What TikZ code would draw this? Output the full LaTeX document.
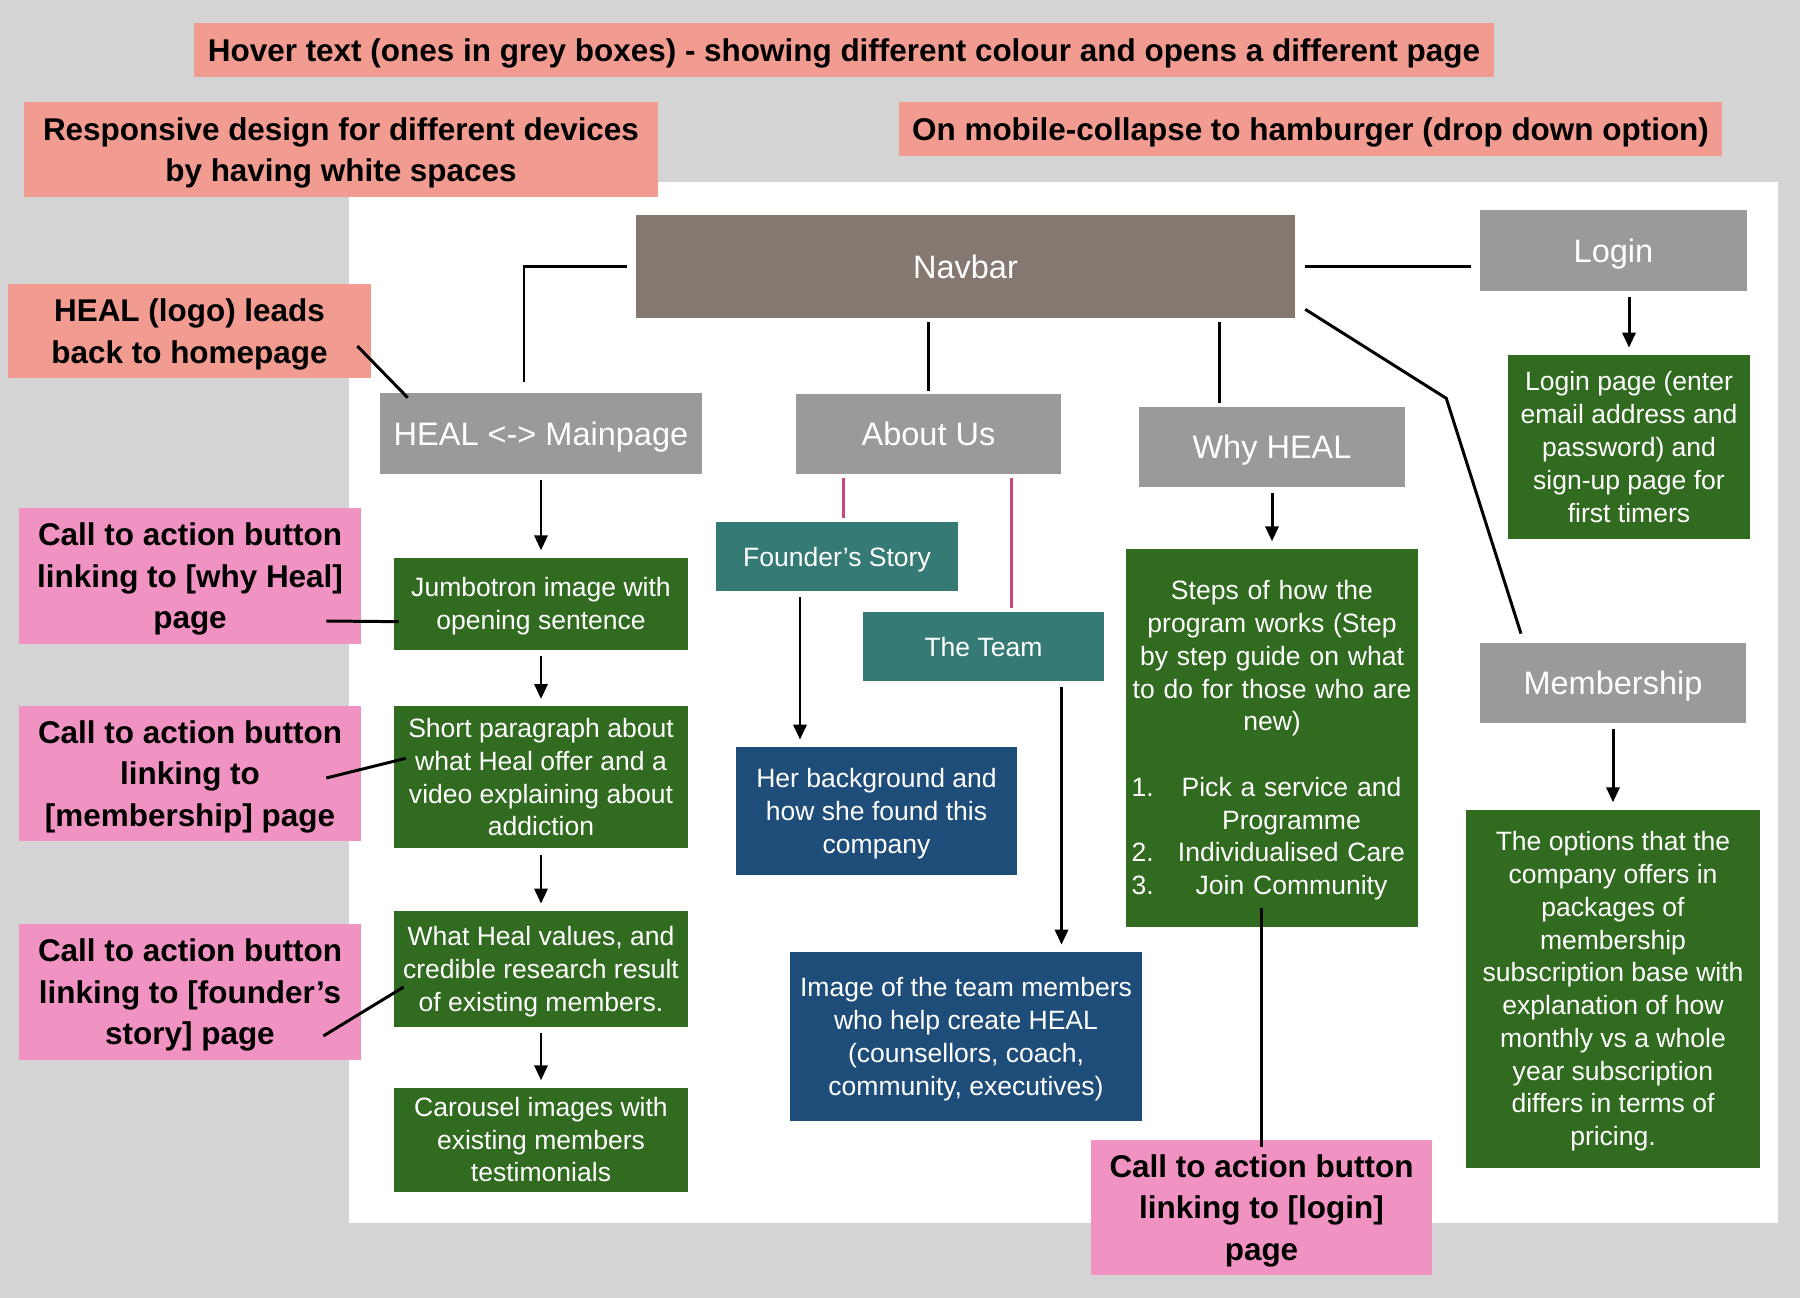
\documentclass[tikz,border=0pt]{standalone}
\usepackage{fontspec}
\setmainfont{Liberation Sans}
\usetikzlibrary{arrows.meta,calc,positioning}

\definecolor{sheetgrey}{HTML}{D4D4D4}
\definecolor{notesalmon}{HTML}{F29B90}
\definecolor{ctapink}{HTML}{F093C2}
\definecolor{navbrown}{HTML}{857870}
\definecolor{menugrey}{HTML}{9A9A9A}
\definecolor{pagegreen}{HTML}{316B1F}
\definecolor{subteal}{HTML}{357A74}
\definecolor{detailblue}{HTML}{1F4D7A}
\definecolor{tiemagenta}{HTML}{CC4482}

% last line of a box sits without its descenders
\newcommand\lastline[1]{\raisebox{0pt}[\height][0pt]{#1}}

\begin{document}
\begin{tikzpicture}[
  x=0.02cm, y=-0.02cm,
  note/.style={fill=notesalmon, align=center, inner sep=0pt,
    font=\fontsize{17.9}{23.6}\selectfont\bfseries},
  cta/.style={note, fill=ctapink, minimum width=6.84cm, minimum height=2.72cm},
  menu/.style={fill=menugrey, text=white, inner sep=0pt, minimum width=5.32cm,
    minimum height=1.6cm, text depth=0pt, font=\fontsize{18.5}{22}\selectfont},
  page/.style={fill=pagegreen, text=white, align=center, inner sep=0pt,
    font=\fontsize{15.1}{18.65}\selectfont},
  column/.style={page, minimum width=5.88cm},
  sub/.style={page, fill=subteal, minimum height=1.38cm, text depth=0pt},
  detail/.style={page, fill=detailblue},
  flow/.style={-{Triangle[length=8.5pt, width=7.4pt]}, line width=1.7pt,
    shorten <=0.12cm, shorten >=0.14cm},
  link/.style={line width=1.7pt},
  tie/.style={draw=tiemagenta, line width=1.7pt, shorten <=0.08cm, shorten >=0.08cm}
]
  \useasboundingbox (0,0) rectangle (1800,1298);
  \fill[sheetgrey] (0,0) rectangle (1800,1298);
  \fill[white] (349,182) rectangle (1778,1223);

  % notes on top
  \node[note, minimum width=26cm, minimum height=1.08cm, text depth=0pt] (hover) at (844,50)
    {Hover text (ones in grey boxes) - showing different colour and opens a different page};
  \node[note, minimum width=12.68cm, minimum height=1.9cm] (responsive) at (341,149.5)
    {Responsive design for different devices\\\lastline{by having white spaces}};
  \node[note, minimum width=16.46cm, minimum height=1.08cm, text depth=0pt] (mobile) at (1310.5,129)
    {On mobile-collapse to hamburger (drop down option)};
  \node[note, minimum width=7.26cm, minimum height=1.88cm] (logo) at (189.5,331)
    {HEAL (logo) leads\\\lastline{back to homepage}};

  % menu
  \node[menu, fill=navbrown, minimum width=13.18cm, minimum height=2.06cm] (navbar) at (965.5,266.5) {Navbar};
  \node[menu, minimum width=5.34cm, minimum height=1.62cm] (login) at (1613.5,250.5) {Login};
  \node[menu, minimum width=6.44cm, minimum height=1.62cm] (mainpage) at (541,433.5) {HEAL <-> Mainpage};
  \node[menu, minimum width=5.3cm] (aboutus) at (928.5,434) {About Us};
  \node[menu] (whyheal) at (1272,447) {Why HEAL};
  \node[menu] (membership) at (1613,683) {Membership};

  % pages
  \node[page, minimum width=4.84cm, minimum height=3.68cm] (loginpage) at (1629,447)
    {Login page (enter\\email address and\\password) and\\sign-up page for\\first timers};
  \node[page, minimum width=5.88cm, minimum height=7.16cm, below=1.72cm of membership] (options)
    {The options that the\\company offers in\\packages of\\membership\\subscription base with\\explanation of how\\monthly vs a whole\\year subscription\\differs in terms of\\\lastline{pricing.}};
  \node[page, minimum width=5.86cm, minimum height=7.56cm, text width=5.62cm, below=1.22cm of whyheal] (steps)
    {Steps of how the\\program works (Step\\by step guide on what\\to do for those who are\\new)\\[18.65pt]
    \makebox[0.78cm][l]{1.}\makebox[4.84cm]{Pick a service and}\\
    \makebox[0.78cm][l]{}\makebox[4.84cm]{Programme}\\
    \makebox[0.78cm][l]{2.}\makebox[4.84cm]{Individualised Care}\\
    \lastline{\makebox[0.78cm][l]{3.}\makebox[4.84cm]{Join Community}}};
  \node[sub, minimum width=4.84cm] (founder) at (837,556.5) {Founder’s Story};
  \node[sub, minimum width=4.82cm] (team) at (983.5,646.5) {The Team};
  \node[detail, minimum width=5.62cm, minimum height=2.56cm] (herstory) at (876.5,811)
    {Her background and\\how she found this\\\lastline{company}};
  \node[detail, minimum width=7.04cm, minimum height=3.38cm] (teamimage) at (966,1036.5)
    {Image of the team members\\who help create HEAL\\(counsellors, coach,\\\lastline{community, executives)}};

  \node[column, minimum height=1.84cm, below=1.66cm of mainpage] (jumbotron)
    {Jumbotron image with\\\lastline{opening sentence}};
  \node[column, minimum height=2.84cm, below=1.12cm of jumbotron] (intro)
    {Short paragraph about\\what Heal offer and a\\video explaining about\\addiction};
  \node[column, minimum height=2.32cm, below=1.24cm of intro] (values)
    {What Heal values, and\\credible research result\\\lastline{of existing members.}};
  \node[column, minimum height=2.08cm, below=1.2cm of values] (carousel)
    {Carousel images with\\existing members\\testimonials};

  % call to action
  \node[cta] (ctawhy) at (190,576) {Call to action button\\linking to [why Heal]\\\lastline{page}};
  \node[cta] (ctamember) at (190,773.5) {Call to action button\\linking to\\\lastline{[membership] page}};
  \node[cta] (ctafounder) at (190,992) {Call to action button\\linking to [founder’s\\\lastline{story] page}};
  \node[cta, minimum width=6.82cm, minimum height=2.7cm] (ctalogin) at (1261.5,1207.5)
    {Call to action button\\linking to [login]\\\lastline{page}};

  % navbar links
  \draw[link] ($(navbar.west)+(-9,0)$) -| ($(mainpage.north)+(-17,-11)$);
  \draw[link] ($(navbar.east)+(10,0)$) -- ($(navbar.east -| login.west)+(-9,0)$);
  \draw[link] ($(navbar.south -| aboutus.north)+(0,4)$) -- ($(aboutus.north)+(0,-3)$);
  \draw[link] ($(navbar.south -| whyheal.north)+(-53,4)$) -- ($(whyheal.north)+(-53,-4)$);
  \draw[link] ($(navbar.south east)+(10,-9)$) -- ++(141,89) -- ($(membership.north)+(-92,-9)$);

  \draw[flow] (login.south -| loginpage.north) -- (loginpage.north);
  \draw[flow] (membership) -- (options);
  \draw[flow] (whyheal.south -| steps.north) -- (steps.north);
  \draw[flow] (mainpage) -- (jumbotron);
  \draw[flow] (jumbotron) -- (intro);
  \draw[flow] (intro) -- (values);
  \draw[flow] (values) -- (carousel);

  \draw[tie] ($(founder.north)+(6,0)$) -- ($(founder.north |- aboutus.south)+(6,0)$);
  \draw[tie] ($(team.north)+(28,0)$) -- ($(team.north |- aboutus.south)+(28,0)$);
  \draw[flow] ($(founder.south)+(-37,0)$) -- ($(founder.south |- herstory.north)+(-37,0)$);
  \draw[flow] ($(team.south)+(78,0)$) -- ($(team.south |- teamimage.north)+(78,0)$);

  % call to action links
  \draw[link] ($(steps.south -| ctalogin.north)+(0,-19)$) -- ($(ctalogin.north)+(0,7)$);
  \draw[link] ($(ctawhy.east)+(-35,45)$) -- ($(jumbotron.west)+(5,18)$);
  \draw[link] ($(ctamember.east)+(-35,4.5)$) -- ($(intro.west)+(12,-19)$);
  \draw[link] ($(ctafounder.east)+(-38,44)$) -- ($(values.west)+(10,18)$);
  \draw[link] ($(logo.east)+(-14,15)$) -- ($(mainpage.north west)+(28,5)$);
\end{tikzpicture}
\end{document}
